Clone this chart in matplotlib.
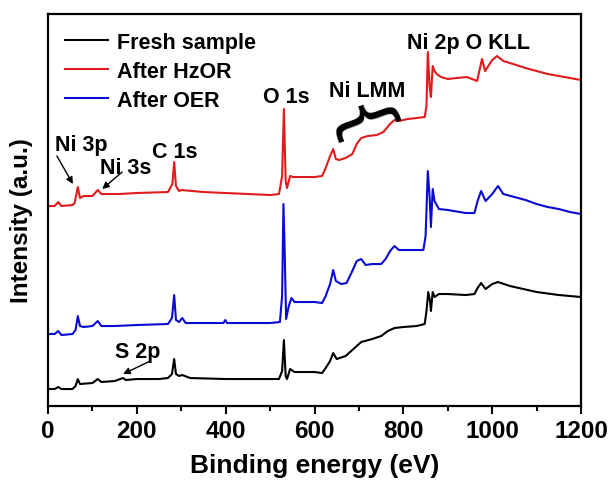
import numpy as np
import matplotlib.pyplot as plt
from matplotlib.ticker import MultipleLocator

plt.rcParams['font.family'] = ['Liberation Sans', 'DejaVu Sans']
plt.rcParams['font.weight'] = 'bold'

# 读图得到的谱线关键点 (结合能 eV, 强度 a.u.)
fresh_x = [0, 15, 23, 30, 55, 62, 67, 72, 100, 112, 120, 150, 169, 175, 200, 250, 270, 279, 284, 288,
           295, 302, 320, 400, 450, 520, 527, 531, 535, 538, 545, 555, 600, 617, 625, 635, 642, 650,
           670, 690, 705, 730, 750, 765, 780, 800, 830, 848, 852, 856, 860, 862, 866, 870, 880, 900,
           940, 960, 967, 975, 985, 1000, 1013, 1040, 1060, 1100, 1150, 1200]
fresh_y = [17, 17, 19, 17, 17, 20, 27, 22, 23, 27, 24, 25, 28, 26, 27, 27, 28, 32, 47, 32,
           30, 31, 28, 27, 27, 27, 35, 66, 30, 27, 37, 34, 34, 33, 38, 45, 53, 47,
           50, 58, 64, 67, 70, 75, 78, 79, 80, 82, 95, 114, 105, 95, 114, 109, 112, 112,
           111, 112, 118, 123, 117, 122, 124, 120, 118, 114, 111, 109]

hzor_x = [0, 15, 23, 30, 55, 60, 67, 72, 80, 100, 112, 120, 160, 200, 270, 280, 284, 288, 295, 300,
          350, 400, 450, 500, 520, 527, 531, 535, 538, 545, 552, 570, 600, 617, 625, 635, 642, 648,
          655, 670, 685, 695, 705, 720, 740, 755, 770, 780, 790, 810, 830, 848, 852, 855, 859, 862,
          866, 870, 875, 885, 900, 920, 943, 966, 977, 984, 1000, 1011, 1025, 1047, 1075, 1108,
          1125, 1150, 1175, 1200]
hzor_y = [200, 200, 204, 200, 201, 203, 219, 208, 210, 210, 216, 212, 212, 213, 214, 222, 244, 220, 215, 216,
          214, 213, 212, 211, 212, 230, 297, 225, 218, 230, 229, 229, 229, 230, 238, 250, 257, 247,
          246, 248, 252, 262, 268, 270, 271, 274, 282, 286, 285, 287, 288, 289, 300, 354, 320, 309,
          340, 335, 332, 329, 327, 328, 329, 325, 347, 335, 346, 350, 345, 342, 338, 334,
          332, 330, 328, 326]

oer_x = [0, 15, 23, 30, 55, 62, 67, 72, 80, 100, 112, 120, 150, 200, 270, 279, 284, 288, 295, 302,
         310, 350, 395, 399, 403, 450, 500, 522, 527, 530, 533, 536, 542, 548, 555, 600, 617, 625,
         635, 642, 648, 660, 672, 685, 695, 705, 715, 730, 750, 760, 770, 780, 790, 820, 845, 850,
         855, 859, 862, 866, 870, 880, 900, 940, 960, 967, 975, 985, 1000, 1013, 1025, 1050, 1075,
         1100, 1125, 1150, 1175, 1200]
oer_y = [72, 72, 75, 71, 72, 76, 90, 80, 79, 80, 85, 80, 80, 81, 82, 88, 111, 86, 84, 88,
         83, 83, 83, 86, 83, 83, 83, 84, 110, 202, 150, 87, 100, 108, 104, 104, 103, 110,
         122, 136, 125, 122, 123, 135, 145, 147, 141, 142, 142, 147, 155, 160, 156, 156, 156, 170,
         235, 210, 179, 217, 205, 197, 196, 193, 193, 205, 215, 205, 212, 220, 212, 209, 206,
         202, 199, 197, 194, 192]

series = [('Fresh sample', fresh_x, fresh_y, '#000000'),
          ('After HzOR', hzor_x, hzor_y, '#e01b1b'),
          ('After OER', oer_x, oer_y, '#0a0ad2')]

fig = plt.figure(figsize=(6.11, 4.81), dpi=100)
ax = fig.add_axes([0.0786, 0.1538, 0.8724, 0.815])

for name, xs, ys, c in series:
    ax.plot(xs, ys, color=c, lw=1.5, label=name)

ax.set_xlim(0, 1200)
ax.set_ylim(0, 392)
ax.xaxis.set_major_locator(MultipleLocator(200))
ax.xaxis.set_minor_locator(MultipleLocator(100))
ax.set_yticks([])
ax.tick_params(axis='x', which='major', direction='out', length=6, width=1.5, labelsize=17.5, pad=3)
ax.tick_params(axis='x', which='minor', direction='out', length=3.5, width=1.5)
for s in ax.spines.values():
    s.set_linewidth(1.6)

ax.set_xlabel('Binding energy (eV)', fontsize=19, fontweight='bold', labelpad=8)
ax.set_ylabel('Intensity (a.u.)', fontsize=17.5, fontweight='bold')
ax.yaxis.set_label_coords(-0.028, 0.475)

ax.legend(loc='upper left', bbox_to_anchor=(0.032, 0.955), frameon=False, fontsize=15.5,
          handlelength=2.0, handletextpad=0.4, labelspacing=0.38, borderpad=0, borderaxespad=0)

# 峰位标注
fs = 15.5
arrow = dict(arrowstyle='-|>', color='k', lw=1.0, mutation_scale=10, shrinkA=0, shrinkB=0)
ax.text(16, 262, 'Ni 3p', fontsize=fs, fontweight='bold', va='center')
ax.annotate('', xy=(56, 222), xytext=(20, 250), arrowprops=arrow)
ax.text(117, 239, 'Ni 3s', fontsize=fs, fontweight='bold', va='center')
ax.annotate('', xy=(122, 217), xytext=(167, 234), arrowprops=arrow)
ax.text(234, 255, 'C 1s', fontsize=fs, fontweight='bold', va='center')
ax.text(484, 310, 'O 1s', fontsize=fs, fontweight='bold', va='center')
ax.text(633, 316, 'Ni LMM', fontsize=fs, fontweight='bold', va='center')
ax.text(808, 364, 'Ni 2p O KLL', fontsize=fs, fontweight='bold', va='center')
ax.text(151, 55, 'S 2p', fontsize=fs, fontweight='bold', va='center')
ax.annotate('', xy=(169, 32), xytext=(230, 45), arrowprops=arrow)
ax.text(697, 280, '{', fontsize=52, fontweight='normal', rotation=-70, ha='center', va='center',
        family='DejaVu Sans')

fig.savefig('out.png', dpi=100)
